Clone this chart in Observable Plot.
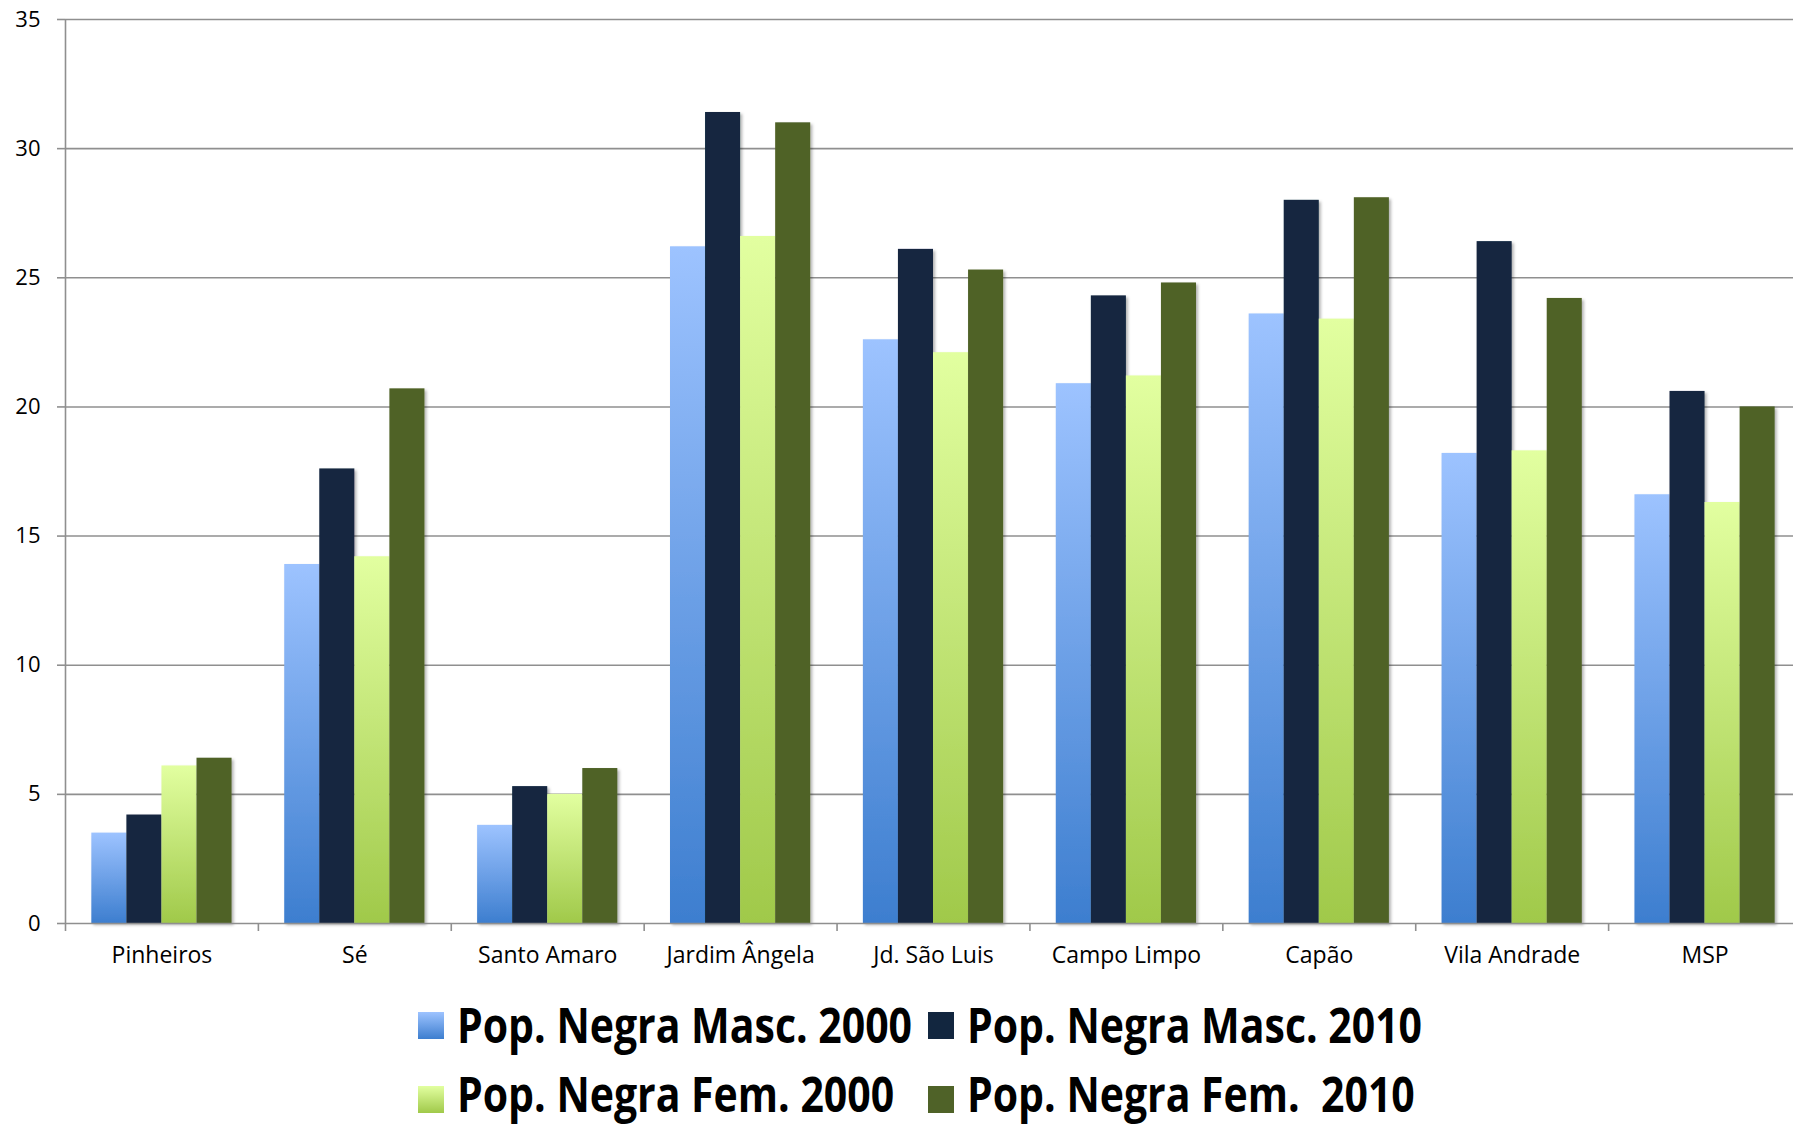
<!DOCTYPE html>
<html>
<head>
<meta charset="utf-8">
<script src="https://cdn.jsdelivr.net/npm/d3@7"></script>
<script src="https://cdn.jsdelivr.net/npm/@observablehq/plot@0.6"></script>
<style>
  html, body { margin: 0; padding: 0; background: #fff; }
  #wrap { position: relative; width: 1793px; height: 1125px; overflow: hidden; }
  #chart { position: absolute; left: 0; top: 0; }
  #legend { position: absolute; left: 0; top: 975px; }
</style>
</head>
<body>
<div id="wrap"><div id="chart"></div><svg id="legend" width="1793" height="150"></svg></div>
<script>
const categories = ["Pinheiros", "Sé", "Santo Amaro", "Jardim Ângela", "Jd. São Luis", "Campo Limpo", "Capão", "Vila Andrade", "MSP"];
const seriesNames = ["Pop. Negra Masc. 2000", "Pop. Negra Masc. 2010", "Pop. Negra Fem. 2000", "Pop. Negra Fem.  2010"];
const masc2000 = [3.5, 13.9, 3.8, 26.2, 22.6, 20.9, 23.6, 18.2, 16.6];
const masc2010 = [4.2, 17.6, 5.3, 31.4, 26.1, 24.3, 28.0, 26.4, 20.6];
const fem2000  = [6.1, 14.2, 5.0, 26.6, 22.1, 21.2, 23.4, 18.3, 16.3];
const fem2010  = [6.4, 20.7, 6.0, 31.0, 25.3, 24.8, 28.1, 24.2, 20.0];
const yTicks = [0, 5, 10, 15, 20, 25, 30, 35];

const seriesValues = [masc2000, masc2010, fem2000, fem2010];
const seriesFills = ["url(#gBlue)", "#12263f", "url(#gGreen)", "#4f6228"];

// layout within each category slot (in category units)
const groupPad = 0.1365;
const barW = (1 - 2 * groupPad) / 4;

const rows = [];
seriesValues.forEach((vals, s) => {
  vals.forEach((v, i) => {
    rows.push({cat: i, s, value: v, x1: i + groupPad + s * barW, x2: i + groupPad + (s + 1) * barW});
  });
});

const chart = Plot.plot({
  width: 1793,
  height: 1000,
  marginLeft: 65,
  marginRight: -8,
  marginTop: 19,
  marginBottom: 77,
  style: {fontFamily: "'Open Sans', sans-serif", background: "transparent", color: "#000", overflow: "visible"},
  x: {type: "linear", domain: [0, 9], axis: null},
  y: {domain: [0, 35], axis: null},
  marks: [
    Plot.gridY(yTicks.filter(d => d > 0), {stroke: "#8f8f8f", strokeOpacity: 1, strokeWidth: 1.6}),
    Plot.rectY(rows, {x1: "x1", x2: "x2", y1: 0, y2: "value", fill: d => seriesFills[d.s]}),
    Plot.ruleY([0], {stroke: "#8f8f8f", strokeWidth: 1.6}),
    Plot.ruleX([0], {stroke: "#8f8f8f", strokeWidth: 1.6}),
    Plot.axisY({ticks: yTicks, label: null, tickSize: 8, tickPadding: 17, fontSize: 22, stroke: "#8f8f8f", strokeWidth: 1.6, tickFormat: d => String(d), fill: "#000"}),
    Plot.axisX({ticks: d3.range(0, 10), label: null, tickSize: 8, tickFormat: () => "", stroke: "#8f8f8f", strokeWidth: 1.6}),
    Plot.axisX({ticks: d3.range(9).map(i => i + 0.5), label: null, tickSize: 0, tickPadding: 23, fontSize: 23, tickFormat: d => categories[Math.round(d - 0.5)], fill: "#000"})
  ]
});

chart.insertAdjacentHTML("afterbegin", `
<defs>
  <linearGradient id="gBlue" x1="0" y1="0" x2="0" y2="1">
    <stop offset="0" stop-color="#9dc3ff"/>
    <stop offset="1" stop-color="#3d7ecf"/>
  </linearGradient>
  <linearGradient id="gGreen" x1="0" y1="0" x2="0" y2="1">
    <stop offset="0" stop-color="#e2ffa0"/>
    <stop offset="1" stop-color="#a0c94a"/>
  </linearGradient>
  <filter id="shadow" x="-20%" y="-5%" width="150%" height="115%">
    <feDropShadow dx="2" dy="2" stdDeviation="1.8" flood-color="#000" flood-opacity="0.3"/>
  </filter>
</defs>`);
chart.querySelectorAll('g[aria-label="rect"] rect').forEach(r => r.setAttribute("filter", "url(#shadow)"));
document.getElementById("chart").appendChild(chart);

// Legend
const legend = d3.select("#legend");
legend.html(`
<defs>
  <linearGradient id="lgBlue" x1="0" y1="0" x2="0" y2="1">
    <stop offset="0" stop-color="#9dc3ff"/>
    <stop offset="1" stop-color="#3d7ecf"/>
  </linearGradient>
  <linearGradient id="lgGreen" x1="0" y1="0" x2="0" y2="1">
    <stop offset="0" stop-color="#e2ffa0"/>
    <stop offset="1" stop-color="#a0c94a"/>
  </linearGradient>
</defs>`);
const legendFills = ["url(#lgBlue)", "#12263f", "url(#lgGreen)", "#4f6228"];
const legendPos = [
  {sx: 418, tx: 457, swTop: 37, base: 68},
  {sx: 928, tx: 967, swTop: 37, base: 68},
  {sx: 418, tx: 457, swTop: 111, base: 137},
  {sx: 928, tx: 967, swTop: 111, base: 137}
];
seriesNames.forEach((name, i) => {
  const p = legendPos[i];
  legend.append("rect").attr("x", p.sx).attr("y", p.swTop).attr("width", 26).attr("height", 27).attr("fill", legendFills[i]);
  legend.append("text")
    .attr("x", 0).attr("y", 0)
    .attr("transform", `translate(${p.tx},${p.base}) scale(1,1.16)`)
    .attr("font-family", "'Open Sans', sans-serif")
    .attr("font-weight", "bold")
    .attr("font-size", 41)
    .attr("letter-spacing", 0)
    .attr("fill", "#000")
    .style("white-space", "pre")
    .text(name);
});
</script>
</body>
</html>
